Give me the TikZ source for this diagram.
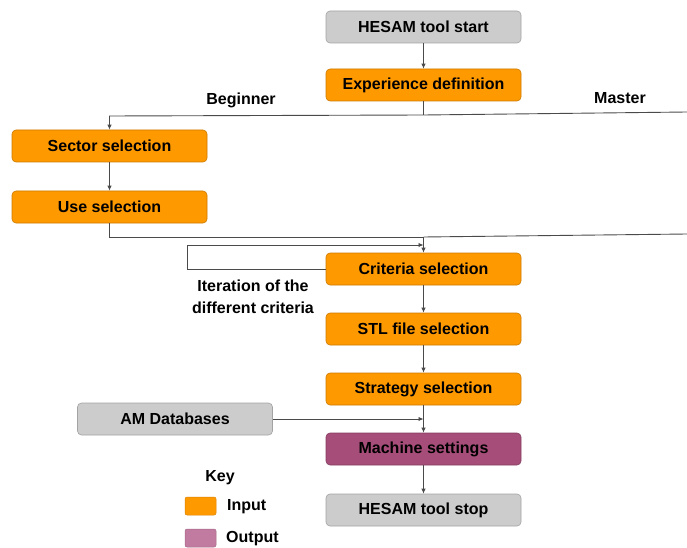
\documentclass[tikz,border=0pt]{standalone}
\usepackage{fontspec}
\setmainfont{Liberation Sans}
\usetikzlibrary{arrows.meta}
\definecolor{inorange}{HTML}{FF9900}
\definecolor{ingray}{HTML}{CCCCCC}
\definecolor{outpurple}{HTML}{A64D79}
\definecolor{keypurple}{HTML}{C27BA0}
\definecolor{linegray}{HTML}{4A4A4A}
\tikzset{
  box/.style={draw=#1!80!black, rounded corners=4pt, minimum width=195pt, minimum height=32pt, inner sep=0pt, font=\fontsize{16}{19}\selectfont\bfseries, line width=0.6pt},
  inbox/.style={box=inorange, fill=inorange},
  graybox/.style={box=ingray, fill=ingray},
  outbox/.style={box=outpurple, fill=outpurple},
  lbl/.style={font=\fontsize{16}{19}\selectfont\bfseries, inner sep=0pt},
  conn/.style={draw=linegray, line width=0.9pt},
  arr/.style={conn, -{Latex[length=5pt,width=4.5pt]}},
  swatch/.style={draw=#1!85!black, fill=#1, rounded corners=2pt, minimum width=31pt, minimum height=18pt, inner sep=0pt, line width=0.5pt}
}
\begin{document}
\begin{tikzpicture}[x=1pt,y=1pt]
\useasboundingbox (0,0) rectangle (687,547);
\node[graybox] (start) at (423.5,520) {HESAM tool start};
\node[inbox] (exp) at (423.5,462) {Experience definition};
\node[inbox] (sector) at (109.5,401) {Sector selection};
\node[inbox] (use) at (109.5,340) {Use selection};
\node[inbox] (crit) at (423.5,278) {Criteria selection};
\node[inbox] (stl) at (423.5,218) {STL file selection};
\node[inbox] (strat) at (423.5,158) {Strategy selection};
\node[graybox] (amdb) at (175,128) {AM Databases};
\node[outbox] (mach) at (423.5,98) {Machine settings};
\node[graybox] (stop) at (423.5,37) {HESAM tool stop};

\node[lbl] (beg) at (241,447) {Beginner};
\node[lbl] (mas) at (620,449) {Master};
\node[lbl, align=center, font=\fontsize{16}{22}\selectfont\bfseries] (iter) at (253,250) {Iteration of the\\different criteria};

\node[lbl] (key) at (220,69) {Key};
\node[swatch=inorange] (kin) at (200.5,41) {};
\node[lbl, anchor=west] (kint) at (227,40) {Input};
\node[swatch=keypurple] (kout) at (200.5,9) {};
\node[lbl, anchor=west] (koutt) at (226,8) {Output};

\coordinate (j1) at (423.5,432);
\coordinate (l1) at (109.5,431);
\coordinate (r1) at (687,435);
\coordinate (j2) at (423.5,310);
\coordinate (l2) at (109.5,310);
\coordinate (r2) at (687,313);
\coordinate (p1) at (187,278);
\coordinate (p2) at (187,302);
\coordinate (p3) at (423.5,302);

\draw[arr] (start) -- (exp);
\draw[conn] (exp.south) -- (j1);
\draw[arr] (j1) -- (l1) -- (sector.north);
\draw[conn] (j1) -- (r1);
\draw[arr] (sector) -- (use);
\draw[conn] (use.south) -- (l2) -- (j2);
\draw[conn] (r2) -- (j2);
\draw[arr] (j2) -- (crit.north);
\draw[arr] (crit.west) -- (p1) -- (p2) -- (p3);
\draw[arr] (crit) -- (stl);
\draw[arr] (stl) -- (strat);
\draw[arr] (strat) -- (mach);
\draw[arr] (amdb.east) -- (amdb.east -| mach.north);
\draw[arr] (mach) -- (stop);
\end{tikzpicture}
\end{document}
